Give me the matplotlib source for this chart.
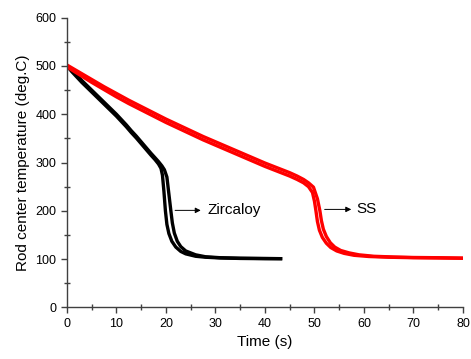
import numpy as np
import matplotlib.pyplot as plt
from matplotlib.ticker import MultipleLocator

plt.rcParams['font.family'] = ['Liberation Sans', 'DejaVu Sans']

# Zircaloy, two runs
zr_t1 = [0, 1, 2, 3, 4, 5, 6, 7, 8, 9, 10, 11, 12, 13, 14, 15, 16, 17, 17.8, 18.5, 19.0, 19.3, 19.6,
         19.9, 20.2, 20.6, 21.2, 22, 23, 24, 26, 28, 31, 35, 40, 43.5]
zr_T1 = [500, 488, 477, 466, 456, 446, 436, 426, 416, 406, 396, 385, 374, 362, 351, 339, 327, 315, 306,
         297, 288, 274, 240, 200, 172, 153, 137, 125, 116, 111, 106, 104, 102.5, 101.5, 101, 101]
zr_t2 = [0, 1, 2, 3, 4, 5, 6, 7, 8, 9, 10, 11, 12, 13, 14, 15, 16, 17, 17.8, 18.5, 19.2, 19.7, 20.2,
         20.6, 21.0, 21.3, 21.7, 22.3, 23, 24, 26, 28, 31, 35, 40, 43.5]
zr_T2 = [500, 491, 481, 470, 460, 450, 440, 430, 420, 410, 400, 389, 378, 366, 355, 343, 331, 319, 310,
         302, 293, 285, 270, 235, 200, 175, 154, 137, 126, 117, 109, 105, 103, 102, 101.5, 101]

# Stainless steel, two runs
ss_t1 = [0, 2.5, 5, 7.5, 10, 12.5, 15, 17.5, 20, 22.5, 25, 27.5, 30, 32.5, 35, 37.5, 40, 42.5, 45,
         46.5, 47.8, 48.8, 49.6, 50.0, 50.3, 50.6, 51.0, 51.6, 52.4, 53.3, 54.5, 56, 58, 61, 65, 70, 75, 80]
ss_T1 = [498, 482, 466, 451, 436, 422, 409, 396, 383, 371, 359, 347, 336, 325, 314, 303, 292, 282, 272,
         265, 258, 250, 238, 220, 200, 178, 160, 145, 133, 124, 117, 112, 108, 105.5, 104, 103, 102.5, 102]
ss_t2 = [0, 2.5, 5, 7.5, 10, 12.5, 15, 17.5, 20, 22.5, 25, 27.5, 30, 32.5, 35, 37.5, 40, 42.5, 45,
         46.5, 47.8, 48.8, 49.8, 50.6, 51.1, 51.4, 51.8, 52.4, 53.2, 54.1, 55.3, 57, 59, 62, 66, 70, 75, 80]
ss_T2 = [502, 487, 472, 457, 443, 429, 416, 403, 390, 378, 366, 354, 343, 332, 321, 310, 299, 289, 279,
         272, 265, 258, 249, 225, 200, 180, 162, 147, 134, 125, 118, 113, 109, 106, 104.5, 103.5, 103, 102]

fig = plt.figure(figsize=(4.71, 3.59), dpi=100)
ax = fig.add_axes([0.142, 0.1435, 0.841, 0.8075])

for t, T in [(zr_t1, zr_T1), (zr_t2, zr_T2)]:
    ax.plot(t, T, color='black', linewidth=2.4, solid_capstyle='butt', solid_joinstyle='round')
for t, T in [(ss_t1, ss_T1), (ss_t2, ss_T2)]:
    ax.plot(t, T, color='#ff0000', linewidth=2.4, solid_capstyle='butt', solid_joinstyle='round')

# labels with arrows
ax.annotate('', xy=(27.6, 201), xytext=(21.3, 201),
            arrowprops=dict(arrowstyle='-|>', color='black', lw=0.7, mutation_scale=8))
ax.text(28.4, 201, 'Zircaloy', fontsize=11, va='center', ha='left')
ax.annotate('', xy=(58.0, 203), xytext=(51.5, 203),
            arrowprops=dict(arrowstyle='-|>', color='black', lw=0.7, mutation_scale=8))
ax.text(58.5, 203, 'SS', fontsize=11, va='center', ha='left')

ax.set_xlim(0, 80)
ax.set_ylim(0, 600)
ax.xaxis.set_major_locator(MultipleLocator(10))
ax.xaxis.set_minor_locator(MultipleLocator(5))
ax.yaxis.set_major_locator(MultipleLocator(100))
ax.yaxis.set_minor_locator(MultipleLocator(50))
ax.spines['top'].set_visible(False)
ax.spines['right'].set_visible(False)
for s in ['left', 'bottom']:
    ax.spines[s].set_color('#404040')
    ax.spines[s].set_linewidth(1.0)
ax.tick_params(which='major', direction='out', length=4, width=1.0, color='#404040', labelsize=9)
ax.tick_params(which='minor', direction='inout', length=4, width=1.0, color='#404040')

ax.set_xlabel('Time (s)', fontsize=11)
ax.set_ylabel('Rod center temperature (deg.C)', fontsize=11)

fig.savefig('out.png', dpi=100)
